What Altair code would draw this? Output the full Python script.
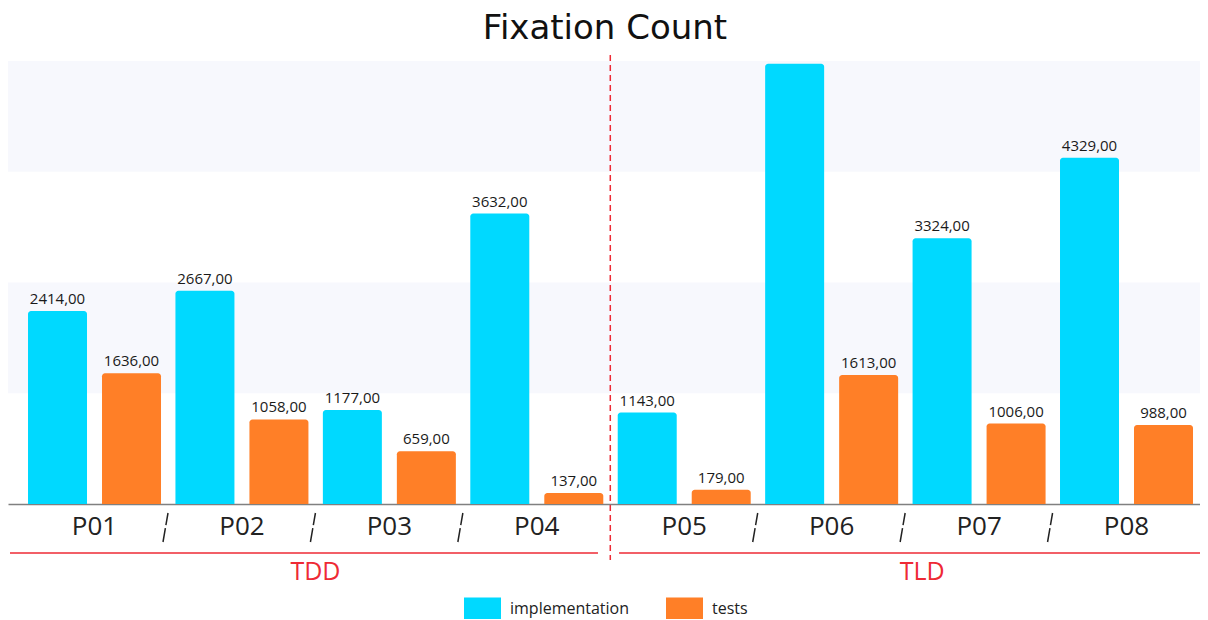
import altair as alt
import pandas as pd

# ---- data ----
title_text = ["Fixation Count"]
participants = ["P01", "P02", "P03", "P04", "P05", "P06", "P07", "P08"]
implementation = [2414, 2667, 1177, 3632, 1143, 5505, 3324, 4329]
tests = [1636, 1058, 659, 137, 179, 1613, 1006, 988]
series_names = ["implementation", "tests"]
series_colors = ["#00D9FF", "#FF7F27"]
band_lo = [1385, 4155]
band_hi = [2770, 5540]
y_max = 5540
label_limit = 5400  # labels above this fall outside the visible plot in the reference
separators_after = ["P01", "P02", "P03", "P05", "P06", "P07"]
divider_after = ["P04"]
group_names = ["TDD", "TLD"]
group_first = ["P01", "P05"]
group_last = ["P04", "P08"]
group_label_anchor = ["P02", "P06"]

rows = []
for p, a, b in zip(participants, implementation, tests):
    rows.append({"participant": p, "series": series_names[0], "value": a})
    rows.append({"participant": p, "series": series_names[1], "value": b})
df = pd.DataFrame(rows)

W, H = 1192, 443
RED = "#EE2A35"
FONT = "Open Sans"

xscale = alt.Scale(domain=participants, paddingInner=0.0979, paddingOuter=0.0916, align=0.741)
yscale = alt.Scale(domain=[0, y_max], nice=False, zero=True)
xaxis = alt.Axis(title=None, ticks=False, tickSize=0, domain=True, domainColor="#808080",
                 domainWidth=1.5, labelFont=FONT, labelFontSize=26, labelColor="#222222",
                 labelPadding=30, labelBaseline="alphabetic", labelAngle=0, grid=False)


def X(bp=None):
    if bp is None:
        return alt.X("participant:N", scale=xscale, sort=participants, axis=xaxis, title=None)
    return alt.X("participant:N", scale=xscale, sort=participants, axis=xaxis, title=None,
                 bandPosition=bp)


bands = alt.Chart(pd.DataFrame({"lo": band_lo, "hi": band_hi})).mark_rect(color="#F7F8FD").encode(
    y=alt.Y("lo:Q", scale=yscale, axis=None, title=None),
    y2="hi:Q",
    x=alt.value(0),
    x2=alt.value(W),
)

offset = alt.XOffset("series:N", scale=alt.Scale(domain=series_names, paddingInner=0.2027,
                                                 paddingOuter=0))

bars = alt.Chart(df).mark_bar(cornerRadiusTopLeft=3, cornerRadiusTopRight=3).encode(
    x=X(),
    xOffset=offset,
    y=alt.Y("value:Q", scale=yscale, axis=None, title=None, stack=None),
    color=alt.Color("series:N", scale=alt.Scale(domain=series_names, range=series_colors),
                    legend=alt.Legend(orient="none", legendX=456, legendY=529,
                                      direction="horizontal", columns=2, title=None,
                                      symbolType="M-1,-0.6H1V0.6H-1Z", symbolSize=1369,
                                      symbolStrokeWidth=0, symbolOpacity=1,
                                      labelFont=FONT, labelFontSize=16, labelColor="#222222",
                                      columnPadding=36, labelOffset=9, padding=0)),
)

labels = alt.Chart(df).transform_filter(
    alt.datum.value <= label_limit
).transform_calculate(
    label="replace(format(datum.value, '.2f'), '.', ',')"
).mark_text(baseline="bottom", dy=-4, font=FONT, fontSize=15, color="#1a1a1a").encode(
    x=X(),
    xOffset=offset,
    y=alt.Y("value:Q", scale=yscale, axis=None, title=None, stack=None),
    text="label:N",
)

seps = alt.Chart(pd.DataFrame({"participant": separators_after})).mark_rule(
    color="#222222", strokeWidth=1.5, strokeDash=[14, 3], xOffset=2, x2Offset=7
).encode(
    x=X(1),
    x2=alt.X2("participant:N", bandPosition=1),
    y=alt.value(481),
    y2=alt.value(452),
)

divider = alt.Chart(pd.DataFrame({"participant": divider_after})).mark_rule(
    color=RED, strokeWidth=1.5, strokeDash=[6, 4], xOffset=7
).encode(
    x=X(1),
    y=alt.value(-6),
    y2=alt.value(499),
)

tdd_line = alt.Chart(pd.DataFrame({"participant": [group_last[0]]})).mark_rule(
    color=RED, strokeWidth=1.5
).encode(x=X(0.96), x2=alt.value(2), y=alt.value(492))

tld_line = alt.Chart(pd.DataFrame({"participant": [group_first[1]]})).mark_rule(
    color=RED, strokeWidth=1.5
).encode(x=X(0.01), x2=alt.value(W), y=alt.value(492))

tdd_text = alt.Chart(pd.DataFrame({"participant": [group_label_anchor[0]], "g": [group_names[0]]})).mark_text(
    color=RED, font=FONT, fontSize=25, baseline="middle", dx=7
).encode(x=X(1), y=alt.value(511), text="g:N")

tld_text = alt.Chart(pd.DataFrame({"participant": [group_label_anchor[1]], "g": [group_names[1]]})).mark_text(
    color=RED, font=FONT, fontSize=25, baseline="middle", dx=24
).encode(x=X(1), y=alt.value(511), text="g:N")

title = alt.Chart(pd.DataFrame({"t": title_text})).mark_text(
    font="DejaVu Sans", fontSize=34, color="#111111", baseline="alphabetic", align="center"
).encode(x=alt.value(W / 2 + 1), y=alt.value(-22), text="t:N")

chart = alt.layer(
    bands, bars, labels, seps, divider, tdd_line, tld_line, tdd_text, tld_text, title
).properties(
    width=W,
    height=H,
    autosize=alt.AutoSizeParams(type="none"),
    padding={"left": 0, "top": 53, "right": 0, "bottom": 115},
).configure_view(stroke=None)

chart.save("out.html", embed_options={"renderer": "svg", "actions": False})
